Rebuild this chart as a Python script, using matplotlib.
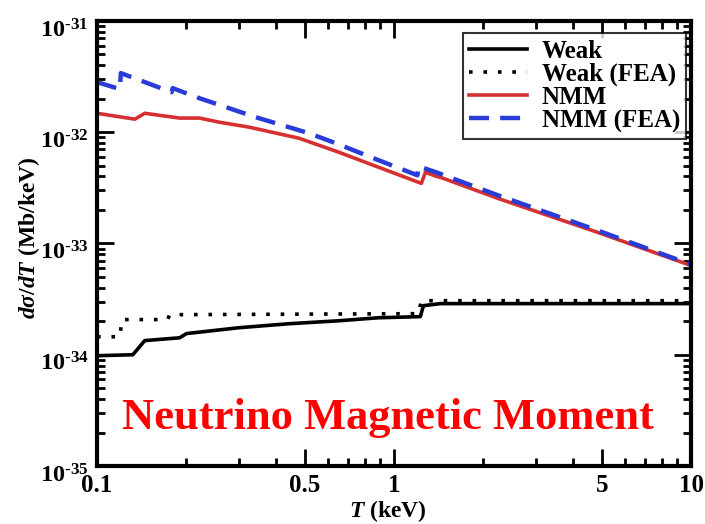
import matplotlib.pyplot as plt
from matplotlib.ticker import FixedLocator, NullFormatter, LogLocator, FuncFormatter
from matplotlib.transforms import ScaledTranslation
import numpy as np

plt.rcParams['font.family'] = 'Liberation Serif'
plt.rcParams['font.weight'] = 'bold'
plt.rcParams['axes.labelweight'] = 'bold'
plt.rcParams['mathtext.fontset'] = 'custom'
plt.rcParams['mathtext.rm'] = 'Liberation Serif:bold'
plt.rcParams['mathtext.bf'] = 'Liberation Serif:bold'
plt.rcParams['mathtext.it'] = 'Liberation Serif:italic:bold'

# recoil energy T (keV) and cross sections (Mb/keV)
T_weak = [0.100, 0.1320, 0.1448, 0.1897, 0.2002, 0.3013, 0.4432, 0.6520,
          0.8875, 1.226, 1.256, 1.432, 10.0]
weak = [9.8e-35, 1.00e-34, 1.34e-34, 1.42e-34, 1.55e-34, 1.75e-34, 1.90e-34,
        2.02e-34, 2.15e-34, 2.20e-34, 2.76e-34, 2.88e-34, 2.88e-34]

T_weak_fea = [0.100, 0.1194, 0.1213, 0.1729, 0.1756, 1.208, 1.236, 10.0]
weak_fea = [1.45e-34, 1.45e-34, 2.07e-34, 2.07e-34, 2.29e-34, 2.34e-34,
            3.06e-34, 3.06e-34]

T_nmm = [0.100, 0.1341, 0.1448, 0.1897, 0.2214, 0.2583, 0.3255, 0.4787,
         0.6520, 0.8875, 1.236, 1.275, 1.388, 1.465, 2.239, 4.843, 10.0]
nmm = [1.48e-32, 1.31e-32, 1.48e-32, 1.34e-32, 1.34e-32, 1.23e-32, 1.11e-32,
       8.83e-33, 6.61e-33, 4.84e-33, 3.47e-33, 4.36e-33, 4.02e-33, 3.85e-33,
       2.54e-33, 1.26e-33, 6.34e-34]

T_nmm_fea = [0.100, 0.1194, 0.1203, 0.1783, 0.1798, 0.2214, 0.3436, 0.5171,
             0.637, 0.8875, 1.199, 1.208, 1.388, 2.239, 4.843, 10.0]
nmm_fea = [2.82e-32, 2.44e-32, 3.40e-32, 2.29e-32, 2.49e-32, 2.02e-32,
           1.36e-32, 9.79e-33, 7.96e-33, 5.60e-33, 4.10e-33, 4.94e-33,
           4.36e-33, 2.71e-33, 1.31e-33, 6.47e-34]

x_ticks = [0.1, 0.5, 1, 5, 10]
x_ticklabels = ['0.1', '0.5', '1', '5', '10']
x_minor = [0.2, 0.3, 0.4, 0.6, 0.7, 0.8, 0.9, 2, 3, 4, 6, 7, 8, 9]

fig = plt.figure(figsize=(7.05, 5.24), dpi=100)
ax = fig.add_axes([0.1376, 0.1107, 0.8426, 0.8493])

ax.plot(T_weak, weak, color='black', lw=2.6, label='Weak')
ax.plot(T_weak_fea, weak_fea, color='black', lw=2.6, linestyle=(0, (1, 3)),
        label='Weak (FEA)')
ax.plot(T_nmm, nmm, color='#d63030', lw=2.6, label='NMM')
ax.plot(T_nmm_fea, nmm_fea, color='#2a3cd8', lw=3.2, linestyle=(0, (4.5, 2.5)),
        label='NMM (FEA)')

ax.set_xscale('log')
ax.set_yscale('log')
ax.set_xlim(0.1, 10)
ax.set_ylim(1e-35, 1e-31)

ax.xaxis.set_major_locator(FixedLocator(x_ticks))
ax.set_xticklabels(x_ticklabels)
ax.xaxis.set_minor_locator(FixedLocator(x_minor))
ax.xaxis.set_minor_formatter(NullFormatter())
ax.yaxis.set_major_locator(LogLocator(base=10, numticks=10))
ax.yaxis.set_major_formatter(FuncFormatter(
    lambda v, p: r'$10^{\text{-%d}}$' % round(-np.log10(v))))
ax.yaxis.set_minor_locator(LogLocator(base=10, subs=np.arange(2, 10), numticks=20))
ax.yaxis.set_minor_formatter(NullFormatter())

ax.tick_params(which='both', direction='in', top=True, right=True, width=2)
ax.tick_params(axis='x', which='major', labelsize=18, pad=6)
ax.tick_params(axis='y', which='major', labelsize=17.5, pad=6)
ax.tick_params(which='major', length=12)
ax.tick_params(which='minor', length=6)
for s in ax.spines.values():
    s.set_linewidth(3)

# drop the power-of-ten labels a little so the base sits on the tick
shift = ScaledTranslation(0, -7 / 100, fig.dpi_scale_trans)
for lbl in ax.get_yticklabels():
    lbl.set_transform(lbl.get_transform() + shift)

ax.set_xlabel(r'$\mathit{T}$ (keV)', fontsize=17, fontweight='bold')
ax.xaxis.set_label_coords(0.49, -0.073)
ax.set_ylabel(r'$\mathit{d\sigma/dT}$ (Mb/keV)', fontsize=17, fontweight='bold')
ax.yaxis.set_label_coords(-0.093, 0.512)

leg = ax.legend(loc='upper right', bbox_to_anchor=(0.992, 0.972), fontsize=18,
                frameon=True, fancybox=False, edgecolor='black',
                handlelength=2.3, handletextpad=0.6, labelspacing=0.0,
                borderpad=0.25, borderaxespad=0.0)
leg.get_frame().set_linewidth(1.5)

ax.text(0.49, 0.108, 'Neutrino Magnetic Moment', transform=ax.transAxes,
        ha='center', va='center', color='red', fontsize=32, fontweight='bold')

plt.savefig('out.png', dpi=100)
